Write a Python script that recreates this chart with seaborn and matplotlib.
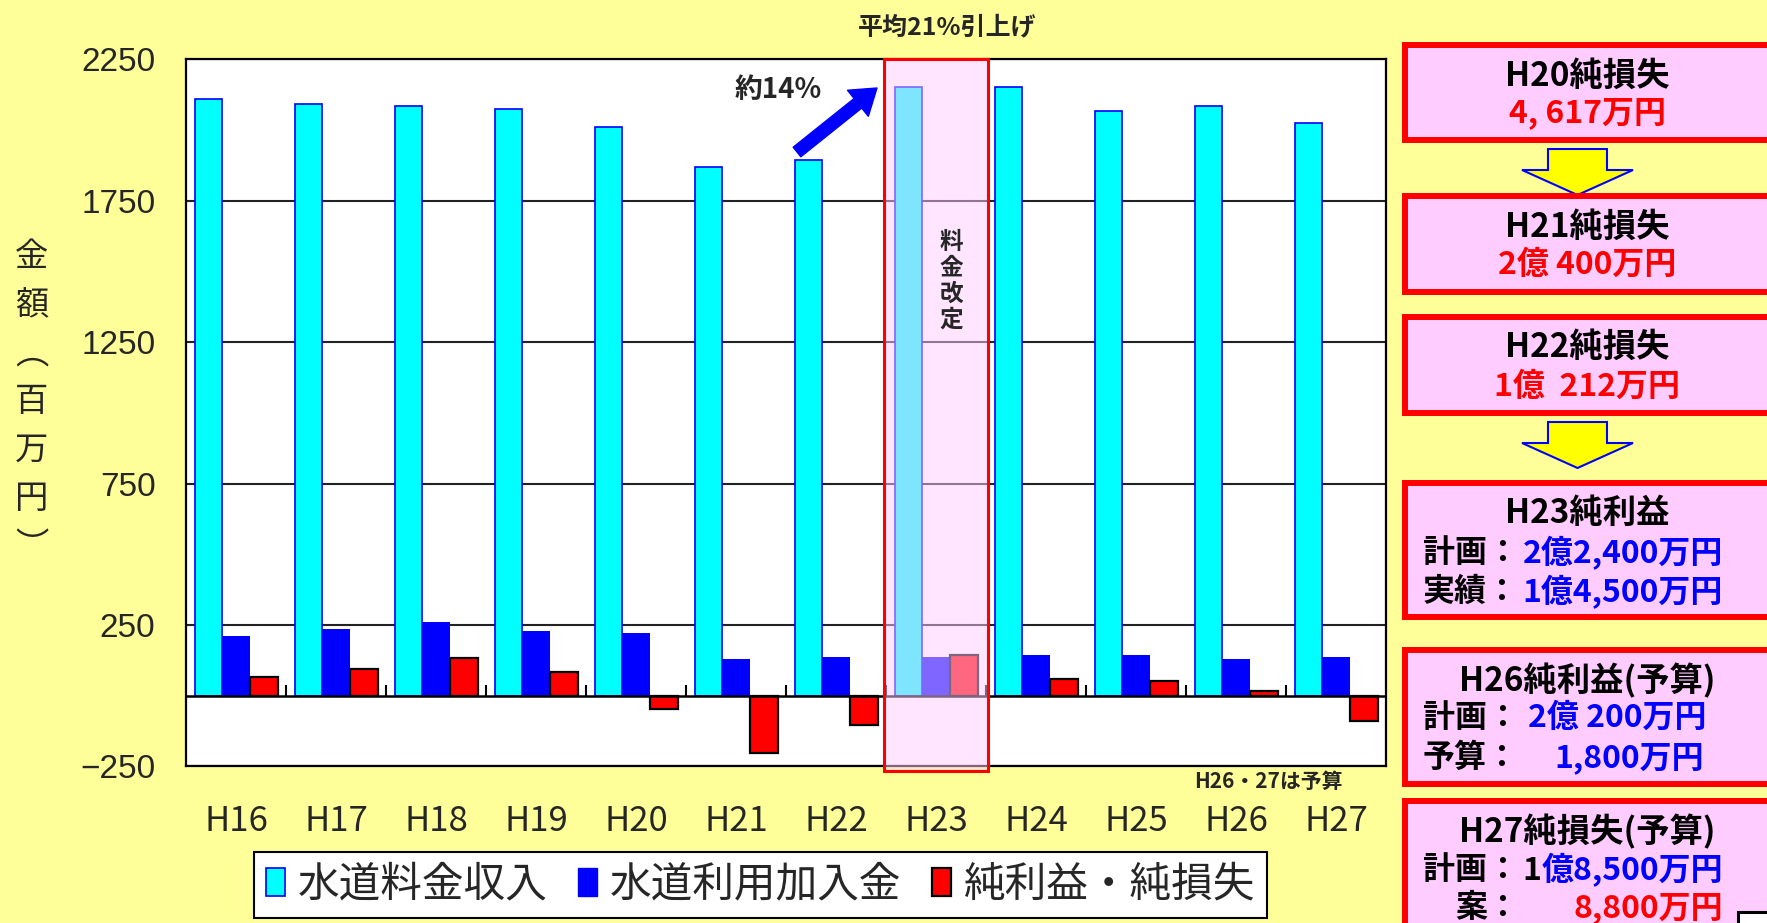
import numpy as np
import pandas as pd
import matplotlib
matplotlib.use("Agg")
import matplotlib.pyplot as plt
import seaborn as sns
from matplotlib.patches import Rectangle, Polygon, Patch
from matplotlib.text import Annotation

# ---- data (百万円) ----
years = ['H16', 'H17', 'H18', 'H19', 'H20', 'H21', 'H22', 'H23', 'H24', 'H25', 'H26', 'H27']
water_revenue = [2109, 2092, 2085, 2076, 2010, 1868, 1894, 2151, 2151, 2067, 2085, 2026]
connection_fee = [211, 236, 261, 228, 221, 129, 136, 136, 145, 145, 129, 136]
net_income = [67, 93, 134, 85, -46.17, -204, -102.12, 145, 60, 52, 18, -88]
series_names = ['水道料金収入', '水道利用加入金', '純利益・純損失']
series_colors = ['#00FFFF', '#0000FF', '#FF0000']
series_edges = [('#0000FF', 1.2), ('#0000FF', 0.0), ('#000000', 1.6)]
y_ticks = [-250, 250, 750, 1250, 1750, 2250]
revision_year = 'H23'

W, H = 1767, 923
BG = '#FFFF99'
PINK = '#FFCCFF'


def fx(x):
    return x / W


def fy(y):
    return 1 - y / H


sns.set_theme(style='white')
plt.rcParams['font.family'] = ['Noto Sans CJK JP', 'DejaVu Sans']

df = pd.DataFrame({
    '年度': years * 3,
    '金額': water_revenue + connection_fee + net_income,
    '系列': [s for s in series_names for _ in years],
})

fig = plt.figure(figsize=(W / 100, H / 100), dpi=100, facecolor=BG)
ax = fig.add_axes([fx(186), fy(766.4), fx(1200), (766.4 - 59.4) / H])
ax.set_facecolor('white')

sns.barplot(data=df, x='年度', y='金額', hue='系列', order=years,
            hue_order=series_names, palette=series_colors, width=0.83,
            gap=0, saturation=1, errorbar=None, ax=ax, zorder=2)

for cont, (ec, lw) in zip(ax.containers, series_edges):
    for bar in cont:
        bar.set_edgecolor(ec)
        bar.set_linewidth(lw)

ax.set_ylim(-250, 2250)
ax.set_xlim(-0.5, len(years) - 0.5)
ax.set_yticks(y_ticks)
ax.set_xlabel('')
ax.set_ylabel('')
ax.set_axisbelow(True)
ax.yaxis.grid(True, color='#222222', lw=1.5)
ax.xaxis.grid(False)
for sp in ax.spines.values():
    sp.set_visible(True)
    sp.set_color('black')
    sp.set_linewidth(1.6)

ax.tick_params(axis='y', length=0, pad=22, labelsize=24)
ax.tick_params(axis='x', length=0, pad=27, labelsize=25)
for lab in ax.get_yticklabels():
    lab.set_fontfamily('Liberation Sans')

# category axis crossing at zero, with boundary tick marks
ax.axhline(0, color='black', lw=1.8, zorder=3)
ax.vlines(np.arange(0.5, len(years) - 0.5, 1), 0, 38, color='black', lw=1.5, zorder=3)

# tariff revision highlight
xi = years.index(revision_year)
ax.add_patch(Rectangle((xi - 0.524, -268), 1.048, 2518, facecolor=(1, 0.8, 1, 0.5),
                       edgecolor='#FF0000', lw=2.2, zorder=5, clip_on=False))
for i, ch in enumerate('料金改定'):
    fig.text(fx(951.7), fy(242 + 26 * i), ch, fontsize=17, fontweight='bold',
             ha='center', va='center', zorder=6)

# legend
handles = [Patch(facecolor=c, edgecolor=e if lw > 0 else c, lw=max(lw, 1.0))
           for c, (e, lw) in zip(series_colors, series_edges)]
if ax.get_legend() is not None:
    ax.get_legend().remove()
leg = fig.legend(handles, series_names, loc='center', bbox_to_anchor=(fx(760.5), fy(885)),
                 ncol=3, fontsize=30, frameon=True, fancybox=False, edgecolor='black',
                 framealpha=1, handlelength=0.45, handleheight=0.65, handletextpad=0.3,
                 columnspacing=0.75, borderpad=0.3)
leg.get_frame().set_linewidth(1.5)

# y axis title, stacked vertically
for i, ch in enumerate(['金', '額', '︵', '百', '万', '円', '︶']):
    fig.text(fx(31.5), fy(257 + 48.3 * i), ch, fontsize=24, ha='center', va='center')

# annotations
fig.text(fx(947), fy(27), '平均21%引上げ', fontsize=18, fontweight='bold', ha='center', va='center')
fig.text(fx(778), fy(90), '約14%', fontsize=20, fontweight='bold', ha='center', va='center')
ax.annotate('', xy=(fx(877), fy(88)), xytext=(fx(797), fy(152)), xycoords='figure fraction',
            arrowprops=dict(arrowstyle='simple,head_length=1.1,head_width=1.5,tail_width=0.55',
                            color='#0000FF', mutation_scale=16, shrinkA=0, shrinkB=0))
fig.text(fx(1268), fy(781), 'H26・27は予算', fontsize=15, fontweight='bold', ha='center', va='center')


# ---- right-hand summary panel ----
def panel_box(top, bottom):
    fig.add_artist(Rectangle((fx(1405), fy(bottom - 3)), fx(1780 - 1405), (bottom - top - 6) / H,
                             transform=fig.transFigure, facecolor=PINK, edgecolor='#FF0000',
                             lw=4.3, zorder=2))


def down_arrow(top):
    pts = [(1548, top), (1607, top), (1607, top + 21), (1633, top + 21), (1577.5, top + 46),
           (1522, top + 21), (1548, top + 21)]
    fig.add_artist(Polygon([(fx(x), fy(y)) for x, y in pts], closed=True, transform=fig.transFigure,
                           facecolor='#FFFF00', edgecolor='#0000FF', lw=1.5, zorder=2))


def ptext(x, y, s, color='black', ha='center', size=23):
    return fig.text(fx(x), fy(y), s, color=color, fontsize=size, fontweight='bold',
                    ha=ha, va='center', zorder=3)


panel_cx = 1587
panel_box(42, 143)
ptext(panel_cx, 76, 'H20純損失', size=24)
ptext(panel_cx, 113, '4, 617万円', color='#FF0000')
down_arrow(149)

panel_box(193, 295)
ptext(panel_cx, 227, 'H21純損失', size=24)
ptext(panel_cx, 265, '2億 400万円', color='#FF0000')

panel_box(314, 416)
ptext(panel_cx, 347, 'H22純損失', size=24)
ptext(panel_cx, 387, '1億  212万円', color='#FF0000')
down_arrow(422)

panel_box(480, 620)
ptext(panel_cx, 513, 'H23純利益', size=24)
ptext(1519, 553, '計画：', ha='right')
ptext(1723, 553, '2億2,400万円', color='#0000FF', ha='right')
ptext(1519, 592, '実績：', ha='right')
ptext(1723, 592, '1億4,500万円', color='#0000FF', ha='right')

panel_box(647, 787)
ptext(panel_cx, 681, 'H26純利益(予算)', size=24)
ptext(1519, 718, '計画：', ha='right')
ptext(1706, 718, '2億 200万円', color='#0000FF', ha='right')
ptext(1519, 758, '予算：', ha='right')
ptext(1704, 758, '1,800万円', color='#0000FF', ha='right')

panel_box(798, 960)
ptext(panel_cx, 832, 'H27純損失(予算)', size=24)
ptext(1519, 870, '計画：', ha='right')
t = ptext(1723, 870, '億8,500万円', color='#0000FF', ha='right')
one = Annotation('1', xy=(0, 0), xycoords=t, ha='right', va='bottom', fontsize=23,
                 fontweight='bold', color='black', annotation_clip=False)
one.set_zorder(3)
fig.add_artist(one)
ptext(1519, 908, '案：', ha='right')
ptext(1723, 908, '8,800万円', color='#FF0000', ha='right')

fig.add_artist(Rectangle((fx(1738), fy(950)), fx(60), 38 / H, transform=fig.transFigure,
                         facecolor='white', edgecolor='black', lw=2.2, zorder=4))

fig.savefig('out.png', dpi=100, facecolor=BG)
